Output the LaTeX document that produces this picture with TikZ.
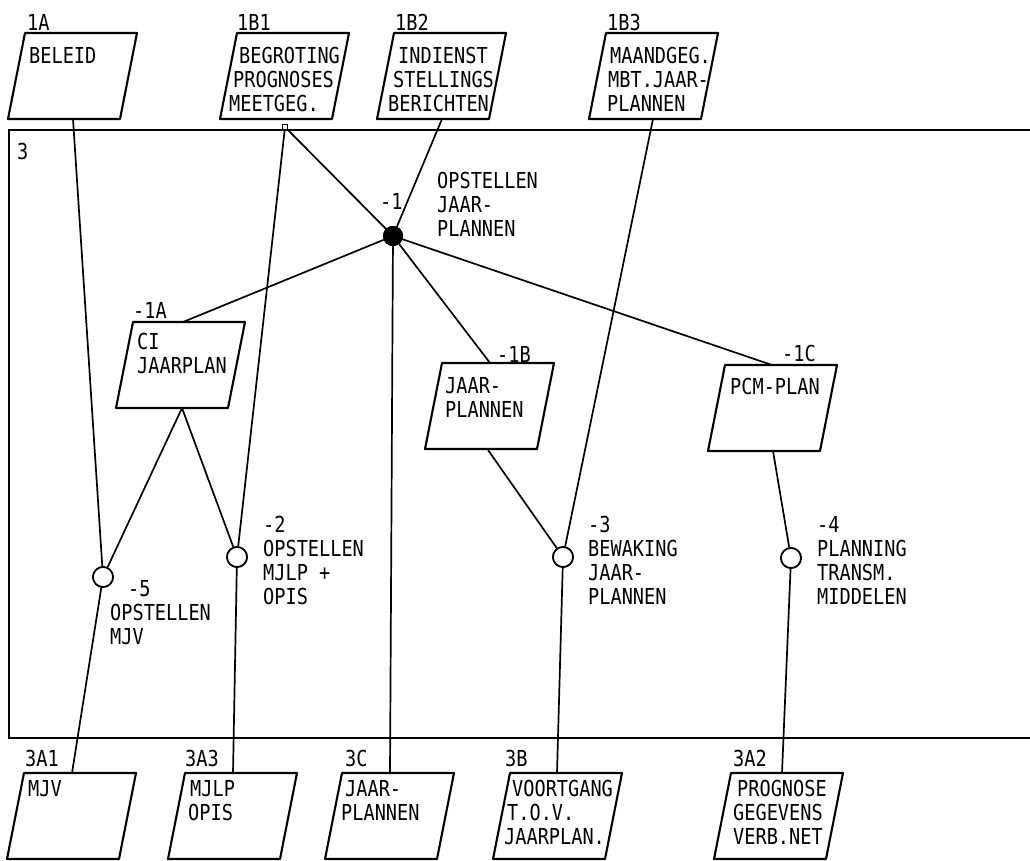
\documentclass[tikz,border=0pt]{standalone}
\usepackage{fontspec}
\newfontfamily\pixfam[FakeStretch=0.845]{DejaVu Sans Mono}
\tikzset{
 boxline/.style={line width=2.1pt, line join=round},
 frameline/.style={line width=2.3pt},
 conn/.style={line width=1.7pt},
 txt/.style={font={\pixfam\fontsize{22}{24}\selectfont}, inner sep=0pt, anchor=north west, align=left},
 proc/.style={circle, draw, line width=1.7pt, fill=white, minimum size=20pt, inner sep=0pt},
 hubst/.style={circle, draw, line width=1pt, fill=black, minimum size=19pt, inner sep=0pt},
 sqst/.style={rectangle, draw, line width=1.4pt, fill=white, minimum size=5pt, inner sep=0pt}
}
\newcommand\pgram[3]{\draw[boxline] (#2,#3) coordinate (#1) -- ++(112,0) -- ++(-17,86) -- ++(-112,0) -- cycle;}
\begin{document}
\begin{tikzpicture}[x=1pt,y=-1pt]
\useasboundingbox (0,0) rectangle (1030,861);
% frame 3
\coordinate (fTL) at (9,130);
\coordinate (fBL) at (9,738);
\coordinate (fTR) at (1030,130);
\coordinate (fBR) at (1030,738);
\draw[frameline] (fBR) -- (fBL) -- (fTL) -- (fTR);
\node[txt] (l3) at (17,143) {3};
% connection points
\coordinate (a1A) at (73,119);
\coordinate (a1B2) at (442,119);
\coordinate (a1B3) at (653,119);
\coordinate (tCI) at (183,322);
\coordinate (bCI) at (182,408);
\coordinate (tJP) at (490,363);
\coordinate (bJP) at (488,450);
\coordinate (tPCM) at (772,365);
\coordinate (bPCM) at (773,451);
\coordinate (t3A1) at (72,773);
\coordinate (t3A3) at (233,773);
\coordinate (t3C) at (390,773);
\coordinate (t3B) at (557,773);
\coordinate (t3A2) at (782,773);
% process nodes
\node[hubst] (hub) at (393,236) {};
\node[proc] (c5) at (103,577) {};
\node[proc] (c2) at (237,557) {};
\node[proc] (c3) at (563,557) {};
\node[proc] (c4) at (791,558) {};
\node[sqst] (sq) at (285,127) {};
% connectors
\draw[conn] (a1A) -- (c5);
\draw[conn] (sq) -- (c2);
\draw[conn] (sq) -- (hub);
\draw[conn] (a1B2) -- (hub);
\draw[conn] (a1B3) -- (c3);
\draw[conn] (hub) -- (tCI);
\draw[conn] (hub) -- (tJP);
\draw[conn] (hub) -- (tPCM);
\draw[conn] (hub) -- (t3C);
\draw[conn] (bCI) -- (c5);
\draw[conn] (bCI) -- (c2);
\draw[conn] (bJP) -- (c3);
\draw[conn] (bPCM) -- (c4);
\draw[conn] (c5) -- (t3A1);
\draw[conn] (c2) -- (t3A3);
\draw[conn] (c3) -- (t3B);
\draw[conn] (c4) -- (t3A2);
% redraw circles on top
\node[proc] at (c5) {};
\node[proc] at (c2) {};
\node[proc] at (c3) {};
\node[proc] at (c4) {};
\node[hubst] at (hub) {};
\node[sqst] at (sq) {};
% top boxes
\pgram{p1A}{25}{33}
\pgram{p1B1}{237}{33}
\pgram{p1B2}{394}{33}
\pgram{p1B3}{606}{33}
\node[txt] (l1A) at (27,14) {1A};
\node[txt] (l1B1) at (237,14) {1B1};
\node[txt] (l1B2) at (395,14) {1B2};
\node[txt] (l1B3) at (607,14) {1B3};
\node[txt] (t1A) at (29,47) {BELEID};
\node[txt] (t1B1) at (239,47) {BEGROTING\\\hspace*{-6pt}PROGNOSES\\\hspace*{-10pt}MEETGEG.};
\node[txt] (t1B2) at (398,47) {INDIENST\\\hspace*{-5pt}STELLINGS\\\hspace*{-10pt}BERICHTEN};
\node[txt] (t1B3) at (610,47) {MAANDGEG.\\\hspace*{-2pt}MBT.JAAR-\\\hspace*{-3pt}PLANNEN};
% hub labels
\node[txt] (lhub) at (380,193) {-1};
\node[txt] (thub) at (437,172) {OPSTELLEN\\JAAR-\\PLANNEN};
% middle boxes
\pgram{pCI}{133}{322}
\pgram{pJP}{442}{363}
\pgram{pPCM}{725}{365}
\node[txt] (lCI) at (133,302) {-1A};
\node[txt] (lJP) at (497,346) {-1B};
\node[txt] (lPCM) at (782,345) {-1C};
\node[txt] (tCIx) at (137,333) {CI\\JAARPLAN};
\node[txt] (tJPx) at (445,377) {JAAR-\\PLANNEN};
\node[txt] (tPCMx) at (730,378) {PCM-PLAN};
% process labels
\node[txt] (l5) at (110,580) {\hspace*{18pt}-5\\OPSTELLEN\\MJV};
\node[txt] (l2) at (263,516) {-2\\OPSTELLEN\\MJLP +\\OPIS};
\node[txt] (l3p) at (588,516) {-3\\BEWAKING\\JAAR-\\PLANNEN};
\node[txt] (l4) at (817,516) {-4\\PLANNING\\TRANSM.\\MIDDELEN};
% bottom boxes
\pgram{p3A1}{24}{773}
\pgram{p3A3}{185}{773}
\pgram{p3C}{342}{773}
\pgram{p3B}{510}{773}
\pgram{p3A2}{731}{773}
\node[txt] (l3A1) at (25,750) {3A1};
\node[txt] (l3A3) at (185,750) {3A3};
\node[txt] (l3C) at (345,750) {3C};
\node[txt] (l3B) at (505,750) {3B};
\node[txt] (l3A2) at (733,750) {3A2};
\node[txt] (t3A1x) at (28,780) {MJV};
\node[txt] (t3A3x) at (190,780) {MJLP\\\hspace*{-2pt}OPIS};
\node[txt] (t3Cx) at (345,780) {JAAR-\\\hspace*{-4pt}PLANNEN};
\node[txt] (t3Bx) at (512,780) {VOORTGANG\\\hspace*{-5pt}T.O.V.\\\hspace*{-8pt}JAARPLAN.};
\node[txt] (t3A2x) at (737,780) {PROGNOSE\\\hspace*{-4pt}GEGEVENS\\\hspace*{-4pt}VERB.NET};
\end{tikzpicture}
\end{document}
